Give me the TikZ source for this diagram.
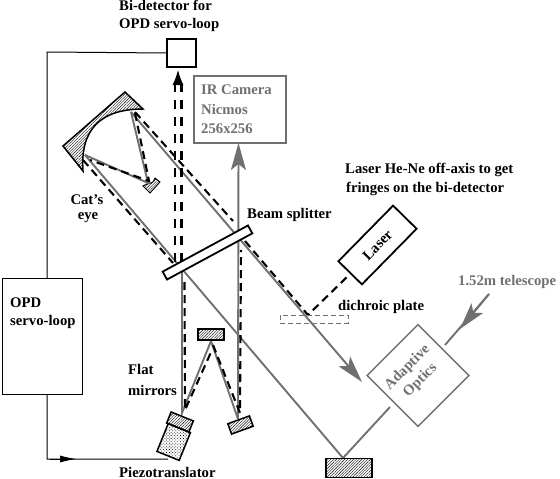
\documentclass[tikz,border=0pt]{standalone}
\usepackage{fontspec}
\setmainfont{Liberation Serif}
\usepackage{tikz}
\usetikzlibrary{positioning,arrows.meta,patterns.meta}
\definecolor{beamgray}{RGB}{112,112,112}

\begin{document}
\begin{tikzpicture}[
  x=1pt, y=-1pt,
  lbl/.style={inner sep=0pt, anchor=west, font=\fontsize{14.7}{16}\selectfont\bfseries},
  graylbl/.style={lbl, text=beamgray},
  beam/.style={draw=beamgray, line width=1.9pt},
  beamarrow/.style={beam, -{Stealth[length=27pt,width=15pt,inset=6pt]}},
  dashbeam/.style={draw=black, line width=2.1pt, dash pattern=on 8pt off 5pt},
  darkbox/.style={draw=black, line width=1.8pt, fill=white, inner sep=0pt},
  hatched/.style={draw=black, line width=1.5pt, pattern={Lines[angle=45,distance=2pt,line width=0.4pt]}},
  dotbody/.style={draw=black, line width=1.5pt, pattern={Dots[angle=45,distance=2.2pt,radius=0.55pt]}, pattern color=black}
]
\useasboundingbox (0,0) rectangle (560,479);

% points on the optics
\coordinate (catA) at (131,112);
\coordinate (catB) at (85,155);
\coordinate (catS) at (148,183);
\coordinate (splitA) at (182,267);
\coordinate (piezoHit) at (182,413);
\coordinate (topHit) at (211,341);
\coordinate (rightHit) at (238,419);
\coordinate (baseHit) at (343,458);
\coordinate (aoTip) at (362,382);
\coordinate (aoIn) at (390,407);
\coordinate (wireEnd) at (168,459);
\coordinate (wireMid) at (76,459);
\coordinate (laserSpot) at (308,315);
\coordinate (scopeStart) at (489,294);
\coordinate (scopeTip) at (460,329);
\coordinate (aoOut) at (445,345);

% wire of the servo-loop
\node[draw=black, line width=1.8pt, minimum width=29pt, minimum height=28pt, inner sep=0pt] (det) at (181.5,53) {};
\draw[black, line width=1pt] (det.west) -- (47,52) -- (47,459) -- (wireEnd);
\draw[black, line width=0.8pt, -{Latex[length=16pt,width=7pt]}] (50,459) -- (wireMid);
\node[draw=black, line width=1pt, fill=white, minimum width=80pt, minimum height=116pt, inner sep=0pt] (servo) at (42,336) {};

% cat's eye
\draw[hatched] (125,92) -- (143,109) .. controls (100,109) and (80,130) .. (83,171) -- (63,146) -- cycle;
\draw[hatched, line width=0.9pt] (143,186) -- (149,183) .. controls (151,184) and (154,182) .. (155,178) -- (160,182) -- (150,193) -- cycle;

% laser and adaptive optics
\node[darkbox, minimum width=78pt, minimum height=33pt, rotate=45.5] (laser) at (377.5,245) {};
\node[font=\fontsize{14.7}{16}\selectfont\bfseries, rotate=45.5] (laserText) at (laser.center) {Laser};
\node[draw=beamgray, line width=1.5pt, fill=white, minimum width=72pt, minimum height=72pt, inner sep=0pt, rotate=45] (ao) at (418,375.5) {};
\node[text=beamgray, font=\fontsize{14.7}{18}\selectfont\bfseries, align=center, rotate=45] (aoText) at (414,374) {Adaptive\\Optics};

% beams
\draw[beam] (catA) -- (catS) -- (catB);
\draw[beam] (catB) -- (baseHit) -- (aoIn);
\draw[beamarrow] (catA) -- (aoTip);
\draw[beam] (splitA) -- (piezoHit) -- (topHit) -- (rightHit);
\draw[beamarrow] (rightHit) -- (238.5,143);
\draw[beam] (scopeStart) -- (aoOut);
\draw[beamarrow] (scopeStart) -- (scopeTip);

% dashed beams
\draw[dashbeam] (135,113) -- (149,181) -- (90,160);
\draw[dashbeam] (135,112) -- (233,221);
\draw[dashbeam] (245,241) -- (laserSpot) -- (348,276);
\draw[dashbeam] (83,160) -- (173,263);
\draw[dashbeam] (184.5,282) -- (185,410) -- (212,350);
\draw[dashbeam] (213,345) -- (240,413) -- (241,250);
\draw[black, line width=2.5pt, dash pattern=on 9pt off 8pt] (175,262) -- (175,84);
\draw[black, line width=2.5pt, dash pattern=on 9pt off 8pt] (181.5,262) -- (181.5,84);
\draw[black, line width=1pt, -{Latex[length=15pt,width=11pt]}] (178,84) -- (178,70);

% optics over the beams
\node[darkbox, minimum width=97pt, minimum height=9pt, rotate=28.4] (split) at (207.5,252.5) {};
\node[draw=beamgray, line width=1.8pt, fill=white, minimum width=92pt, minimum height=67pt, inner sep=0pt] (cam) at (240,109.5) {};
\node[hatched, minimum width=26pt, minimum height=11pt, inner sep=0pt] (flatTop) at (211,334.5) {};
\node[hatched, minimum width=23pt, minimum height=11pt, inner sep=0pt, rotate=20] (flatRight) at (240.5,425) {};
\node[hatched, minimum width=24pt, minimum height=12pt, inner sep=0pt, rotate=-22] (piezoMirror) at (180,422) {};
\node[dotbody, minimum width=24pt, minimum height=30pt, inner sep=0pt, rotate=-22] (piezo) at (173.7,442) {};
\node[hatched, minimum width=46pt, minimum height=19pt, inner sep=0pt] (base) at (349,468) {};
\node[draw=beamgray, line width=0.7pt, dash pattern=on 5pt off 3pt, minimum width=68pt, minimum height=8pt, inner sep=0pt] (dichroic) at (314,319) {};

% labels
\node[lbl] (detA) at (119,5) {Bi-detector for};
\node[lbl] (detB) at (119,25) {OPD servo-loop};
\node[graylbl] (camA) at (201,90) {IR Camera};
\node[graylbl] (camB) at (201,109) {Nicmos};
\node[graylbl] (camC) at (201,129) {256x256};
\node[lbl, anchor=center] (catLa) at (87,200) {Cat's};
\node[lbl, anchor=center] (catLb) at (88,218) {eye};
\node[lbl] (bsLabel) at (247,215) {Beam splitter};
\node[lbl] (lsA) at (345,170) {Laser He-Ne off-axis to get};
\node[lbl] (lsB) at (346,189) {fringes on the bi-detector};
\node[lbl] (dpLabel) at (338,307) {dichroic plate};
\node[graylbl] (scope) at (458,282) {1.52m telescope};
\node[lbl] (srvA) at (10,303) {OPD};
\node[lbl] (srvB) at (10,322) {servo-loop};
\node[lbl] (flA) at (128,369) {Flat};
\node[lbl] (flB) at (128,390) {mirrors};
\node[lbl] (pzLabel) at (119,472) {Piezotranslator};
\end{tikzpicture}
\end{document}
